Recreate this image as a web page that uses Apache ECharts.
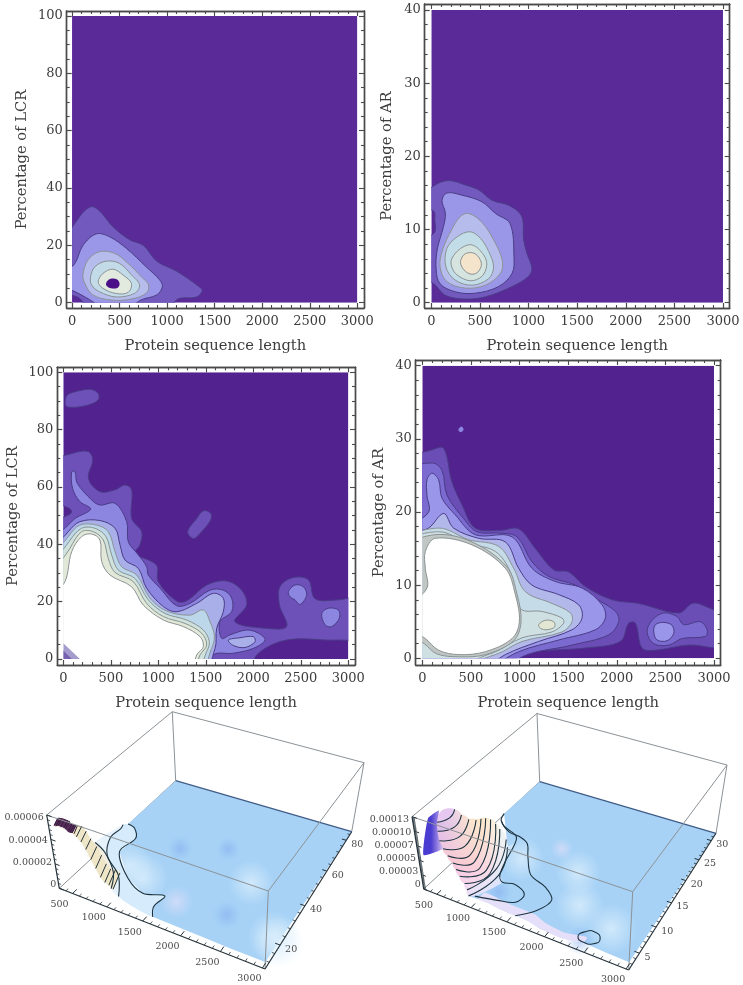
<!DOCTYPE html>
<html><head><meta charset="utf-8">
<style>html,body{margin:0;padding:0;background:#fff}#c{width:743px;height:985px;filter:blur(0.45px)}</style>
<script src="https://cdn.jsdelivr.net/npm/echarts@6/dist/echarts.min.js"></script>
</head><body><div id="c"></div>
<script>
// ---------- tick values ----------
const lengthMajor = [0,500,1000,1500,2000,2500,3000];
const lengthMinor = [100,200,300,400,600,700,800,900,1100,1200,1300,1400,1600,1700,1800,1900,2100,2200,2300,2400,2600,2700,2800,2900];
const lcrMajor = [0,20,40,60,80,100];
const lcrMinor = [5,10,15,25,30,35,45,50,55,65,70,75,85,90,95];
const arMajor = [0,10,20,30,40];
const arMinor = [2,4,6,8,12,14,16,18,22,24,26,28,32,34,36,38];

// ---------- contour regions: [protein length, percentage] ----------
const fullLcr = [[0,0],[3000,0],[3000,100],[0,100]];
const fullAr = [[0,0],[3000,0],[3000,40],[0,40]];

const a1 = [[0,17],[80,30],[200,33.5],[290,32],[430,26.5],[605,22],[750,20],[890,14.5],[1100,11],[1340,5.5],[1370,4.2],[1310,2],[1100,1],[960,0],[250,0],[80,1.5],[0,4.4]];
const a2 = [[0,7.3],[30,13.7],[115,20],[255,24],[395,23],[570,19],[780,12.5],[920,8],[950,5.6],[890,2.7],[710,.7],[465,0],[220,.3],[65,3.3]];
const a3 = [[115,10],[170,15],[290,17.8],[450,17.2],[590,13.7],[730,9],[805,6.2],[780,3.3],[625,1.3],[415,.9],[220,2.7],[135,6.7]];
const a4 = [[195,9],[240,12.5],[360,14.5],[500,13.7],[625,9.7],[710,6.2],[660,3.3],[465,2],[290,3.8],[205,6.2]];
const a5 = [[275,7.3],[325,10.2],[430,11.7],[535,9.7],[625,6.7],[590,3.6],[465,3.2],[325,5]];
const a6 = [[360,7],[400,8.3],[470,8.2],[500,6.7],[480,5.2],[410,5],[365,5.8]];

const b1 = [[0,14],[40,16.1],[180,16.7],[350,16.1],[490,15.4],[625,14],[800,13.3],[930,11.8],[950,8.6],[985,6.7],[1035,4.7],[1000,3.6],[830,2.2],[555,.8],[350,.5],[145,1],[25,2.6],[0,3.8],[0,8.5],[28,9.5],[35,11.5],[25,12.5],[0,13.5]];
const b2 = [[110,14],[160,15],[315,14.7],[520,13.8],[660,12.2],[810,10.8],[850,6.3],[830,4],[690,2.2],[450,1.3],[245,1.5],[90,2.6],[50,4.5],[60,7.2],[125,10.4],[145,12.2]];
const b3 = [[210,10],[300,11.8],[385,12.2],[520,11],[640,8.6],[730,5.8],[710,4],[555,2.4],[350,2],[160,2.9],[90,4.9],[115,7.2]];
const b4 = [[160,7.4],[265,9],[400,9.7],[505,8.8],[590,7],[640,4.9],[590,3.3],[420,2.4],[245,3.1],[150,4.9]];
const b5 = [[210,6],[300,7.4],[420,7.9],[540,6.5],[570,5.1],[520,3.6],[400,3],[265,3.8],[210,4.9]];
const b6 = [[300,5.6],[350,6.7],[450,6.7],[515,5.4],[480,4.2],[410,3.9],[335,4.5]];

const c1 = [[0,68],[125,72],[265,72.3],[310,69.4],[265,63],[385,58.4],[545,59],[650,60.7],[720,59],[720,49],[825,44.4],[807,39.8],[755,36.9],[980,32.8],[1000,27],[1193,20.2],[1300,20.3],[1510,25.8],[1720,27.2],[1877,24],[1930,18.8],[1807,13],[2140,10.7],[2350,11.3],[2275,18.8],[2280,25.2],[2420,28.4],[2580,27.6],[2650,21],[2880,20.6],[3000,21],[3000,7.8],[2880,6.6],[2350,6.6],[2035,1.4],[1965,0],[0,0],[0,46],[88,51.4],[0,56.6]];
const c1top = [[20,90],[40,92],[100,93],[200,93.8],[300,94],[370,92.5],[370,90.5],[300,89],[180,88],[60,87.8],[25,88.4]];
const c1mid = [[1309,44.4],[1404,49],[1474,51.7],[1551,50.8],[1551,48.5],[1439,43.8],[1369,42]];
const c2right1 = [[2369,23.5],[2439,25.8],[2526,25.2],[2562,22.3],[2491,19],[2439,20.6],[2386,21.7]];
const c2right2 = [[2720,15.9],[2790,17.7],[2895,17.1],[2905,14.2],[2825,11.3],[2755,11.9]];
const c2 = [[0,39.8],[53,46.7],[123,49],[288,52.3],[175,54.9],[98,59.5],[88,65.3],[123,65.3],[147,61.3],[298,55.5],[385,53.7],[545,54.3],[667,47.9],[684,40.9],[790,36.3],[877,32.2],[895,29.3],[1018,24.7],[1193,18.6],[1333,19.4],[1544,24],[1684,24],[1772,21.2],[1772,16.5],[1649,13],[1667,7.2],[1754,8.4],[1930,10.1],[2053,9],[2123,6.6],[2000,3.7],[1790,2],[1579,1.4],[1526,0],[0,0]];
const c3 = [[0,35],[53,44.4],[175,47.9],[385,48.3],[545,45.6],[597,39.8],[650,34.5],[790,31.6],[877,24.7],[1053,18.3],[1193,16.5],[1404,19.4],[1579,22.9],[1684,21.2],[1684,16.5],[1614,10.7],[1597,3.7],[1439,0],[0,0]];
const c3right = [[1737,6.6],[1860,7.4],[2000,7.8],[2018,6],[1912,4],[1790,4.7]];
const c4 = [[0,32.2],[53,42.7],[175,46.7],[350,46.7],[474,44.4],[545,37.4],[614,32.2],[772,29.3],[912,21.2],[1088,16.7],[1333,15.3],[1474,17.1],[1544,13],[1590,8],[1561,3.7],[1404,0],[0,0]];
const c5 = [[0,29.3],[60,40.9],[193,45.6],[333,45.6],[449,42.7],[509,36.3],[579,31],[754,28.1],[895,20.6],[1070,15.9],[1298,13.6],[1474,10.1],[1537,6],[1509,2.6],[1369,0],[0,0]];
const c6 = [[0,25.8],[70,38.6],[193,44.4],[316,44.4],[421,41.5],[474,35],[544,30.2],[737,27],[877,19.4],[1053,14.8],[1281,12.4],[1456,9],[1509,4.9],[1439,1.4],[1333,0],[0,0]];
const c7 = [[0,20],[18,27],[88,37.4],[193,42.7],[298,43.6],[386,41.5],[404,34],[491,29.3],[719,25.2],[842,18.8],[1053,13.6],[1263,11.3],[1439,7.8],[1474,4.3],[1404,1.4],[1316,0],[0,0]];
const c8 = [[0,5.5],[175,0],[0,0]];
const c9 = [[0,3],[90,0],[0,0]];

const d1 = [[0,27.1],[100,28.5],[220,28.7],[305,24.1],[408,21],[545,17.8],[803,17.5],[991,17.7],[1163,15],[1351,12.1],[1506,11.8],[1677,9.8],[1952,8],[2226,7.5],[2638,6.2],[2775,7.5],[2878,7.3],[3000,5.2],[3000,1.6],[2740,1.8],[2398,1.1],[2260,1.4],[2192,4.8],[2123,4.8],[2037,2.3],[1677,1.4],[1026,.5],[785,0],[0,0],[0,19],[48,20.3],[0,21.6]];
const d1speck = [[370,31.2],[400,31.7],[425,31.3],[400,30.9]];
const d2 = [[0,25.5],[100,26.7],[202,25.7],[254,22.3],[425,19.1],[562,17.3],[803,17.1],[974,16.6],[1128,13.2],[1300,11.2],[1574,10],[1780,8.2],[1986,6.4],[2020,5],[1917,3.2],[1540,1.8],[1026,.2],[854,0],[0,0]];
const d2right = [[2312,3.6],[2363,5.2],[2483,6.2],[2620,5.7],[2689,4.6],[2860,5],[2929,3.9],[2912,3],[2672,2.7],[2535,1.8],[2380,2]];
const d3 = [[0,17.3],[65,20],[48,22.3],[48,24.4],[100,25.3],[168,24.4],[202,21.9],[340,19.6],[545,16.9],[923,16.6],[1128,12.3],[1368,10.5],[1643,9.6],[1849,7.3],[1883,5.5],[1780,3.9],[1403,2.5],[991,.9],[511,0],[0,0]];
const d3right = [[2380,3.6],[2398,4.6],[2483,4.9],[2569,4.5],[2586,3.4],[2518,2.4],[2415,2.5]];
const d4 = [[0,16.6],[65,17.8],[220,19.8],[322,17.8],[580,16.4],[854,15.9],[991,12.3],[1128,10],[1403,8.7],[1609,7.3],[1643,5.5],[1540,3.9],[1197,2.3],[854,.5],[511,0],[0,0]];
const d5 = [[0,15.9],[168,17.8],[477,16.2],[785,15.3],[940,12.3],[1060,9.1],[1334,7.5],[1523,6.2],[1540,5],[1437,3.6],[1026,2.3],[751,.5],[0,0]];
const d6 = [[0,15.5],[168,17.3],[477,15.7],[751,14.6],[905,11.8],[1008,6.8],[1231,6.4],[1437,5.5],[1454,4.8],[1334,3.6],[1026,2.8],[717,.7],[0,0]];
const d7 = [[1197,4.6],[1266,5.2],[1351,5],[1362,4.3],[1283,3.9],[1214,4.1]];
const d8halo = [[0,15],[134,16.9],[511,15.9],[870,12.5],[975,8.7],[1015,5],[940,2.4],[648,.5],[374,.2],[150,.6],[20,2],[0,3.5]];
const d8 = [[31,14.6],[134,16.4],[511,15.5],[854,12.3],[957,8.7],[998,5],[923,2.7],[648,.9],[374,.5],[168,1.1],[31,2.7],[0,4.3],[0,6.8],[48,9.6],[31,12.3]];

// ---------- 3D surfaces: [protein length, percentage, density x 1e-5] ----------
const lcr3dFront = [[3030,9,.54],[2620,9,.54],[2211,9,.6],[1638,9,.66]];
const lcr3dC1 = [[1640,9,.66],[1523,14.7,.36],[1541,20.7,.36],[1288,18.4,.36],[979,22.5,.36],[592,33.2,.36],[618,42.5,.36],[471,48,.3],[316,50,.15]];
const lcr3dC2 = [[1187,9,1.26],[896,20.4,.72],[554,27.5,.72],[372,36.8,.72],[364,43.6,.6],[300,47.5,.36]];
const lcr3dC3 = [[1092,9,1.68],[879,18.5,1.2],[566,26,1.2],[343,29,1.2]];
const lcr3dSlopeLow = [[382,9,5.3],[436,9,5.4],[518,9,5.4],[573,9,5.2],[628,9,5.2],[682,9,5],[737,9,4.7],[791,9,4.2],[846,9,3.5],[901,9,2.9],[955,9,2.3],[1010,9,2],[1064,9,1.9],[1119,9,1.7]];
const lcr3dSlopeHigh = [[330,12.9,5.3],[390,12.9,5.4],[470,12.9,5.4],[525,12.9,5.2],[580,12.9,5.2],[615,14.4,5],[670,14.4,4.7],[725,14.4,4.2],[765,15.5,3.5],[820,15.5,2.9],[875,15.5,2.3],[930,15.5,2],[970,16.7,1.9],[1025,16.7,1.7]];
const lcr3dPaleSpots = [[1097,26.8],[3000,20.9],[2914,22.3],[800,30],[2300,42]];
const lcr3dDarkSpots = [[1190,47.2],[2298,24.1],[1750,55]];
const lcr3dLilacSpots = [[1673,21.9]];

const ar3dArcs = [
  [[535,3.4,12],[611,4.9,12],[565,6.7,12]],
  [[573,2.8,11],[693,4.5,11],[625,7.1,11]],
  [[628,2.2,10],[783,4.1,10],[682,7.7,10]],
  [[682,2,9],[873,3.7,9],[696,9,9]],
  [[737,2,8],[955,3.4,8],[666,10.5,8]],
  [[800,2,7],[1004,3.5,7],[641,11.9,7]],
  [[835,2,6],[1059,3.7,6],[639,13,6]],
  [[879,2,5],[1086,4.6,5],[677,13.5,5]],
  [[939,2,4],[1097,5.1,4],[715,13.8,4]],
  [[966,2,3],[1053,7.3,3],[841,13.2,3]],
  [[980,2,2],[1081,7.3,2],[879,12.8,2]]
];
const ar3dPeak = [[491,5.3,12.6]];
const ar3dWall = [[382,2,6.5],[382,3.8,11.7],[464,5,12.6],[535,3.4,12],[573,2.8,11],[628,2.2,10],[682,2,9]];
const ar3dCa = [[985,3.2,1],[1261,3.9,1],[1463,4.7,1],[1482,6.5,1],[1283,7.6,1],[1133,7.2,1],[1034,8.2,1],[944,11.1,1],[860,14.9,1],[783,16.6,1],[529,17.8,1],[420,18.8,1]];
const ar3dCb = [[1556,3,.5],[1728,5.1,.5],[1791,7.7,.5],[1608,9.5,.5],[1337,10.7,.5],[1114,13.9,.5],[963,16.4,.5],[783,17.3,.5],[622,17.5,.5],[385,19.3,.5],[325,21.1,.5]];
const ar3dIsland = [[2348,3.5,.5],[2375,4.6,.5],[2484,5.2,.5],[2580,4.4,.5],[2552,3.4,.5],[2443,3,.5]];
const ar3dFront = [[3030,2,1.3],[2757,2,1.4],[2484,2,1.6],[2211,2,.9],[1938,2,1.1],[1802,2,1.6],[1665,2,1.7],[1529,2,1.7],[1392,2,1.8],[1256,2,2.1],[1119,2,2.1]];
const ar3dStripTop = [[2484,3,1.6],[2211,3,.9],[1938,3.2,1.1],[1802,3.4,1.6],[1665,3.4,1.7],[1529,3.4,1.7],[1392,3.4,1.8],[1256,3.4,2.1],[1119,3.4,2.1]];
const ar3dPaleSpots = [[1037,13.6],[1799,14.7],[2599,7.1],[2100,9]];
const ar3dDarkSpots = [[2375,3.4],[1129,6.2]];
const ar3dLilacSpots = [[1387,18.2]];

// ---------- styles and layout ----------
const SERIF = '"DejaVu Serif","Liberation Serif",serif';
const INK = '#3c3c3c';
const lo = '#4a3c86', hi = '#8b9294';

function layer(ring, fill, stroke, smooth){ return {ring, fill, stroke, smooth: smooth===undefined?0.35:smooth}; }

const panels2D = [
 { frame:[66.7,11,364,308], xr:[-56,3070], yr:[-1.85,101.75], yMajor:lcrMajor, yMinor:lcrMinor, yMax:100, gap:37, name:'Percentage of LCR',
   layers:[layer(fullLcr,'#5a2a99',null,0),layer(a1,'#7159bd',lo),layer(a2,'#9b97e8',lo),layer(a3,'#b6bded',hi),layer(a4,'#c3dbe8',hi),layer(a5,'#e2e9df',hi),layer(a6,'#4b0f88',null)] },
 { frame:[424.7,4,729.7,308], xr:[-68,3069], yr:[-.72,40.82], yMajor:arMajor, yMinor:arMinor, yMax:40, gap:30, name:'Percentage of AR',
   layers:[layer(fullAr,'#5a2a99',null,0),layer(b1,'#7159bd',lo),layer(b2,'#9b97e8',lo),layer(b3,'#b6bded',hi),layer(b4,'#c3dde8',hi),layer(b5,'#d6e4e0',hi),layer(b6,'#f5e4cc',hi)] },
 { frame:[57.3,367.3,355,665], xr:[-63,3070], yr:[-2.1,101.75], yMajor:lcrMajor, yMinor:lcrMinor, yMax:100, gap:37, name:'Percentage of LCR',
   layers:[layer(fullLcr,'#52228f',null,0),layer(c1,'#6d50b8',lo),layer(c1top,'#6d50b8',lo),layer(c1mid,'#6d50b8',lo),layer(c2,'#8d86e0',lo),layer(c2right1,'#8d86e0',lo),layer(c2right2,'#8d86e0',lo),layer(c3,'#a9afe8',lo),layer(c3right,'#a9afe8',lo),layer(c4,'#bcd6ea',hi),layer(c5,'#cfe2dc',hi),layer(c6,'#e2e8d8',hi),layer(c7,'#ffffff',hi),layer(c8,'#a49ccc',null,0),layer(c9,'#7661b0',null,0)] },
 { frame:[415.7,360,720.7,665], xr:[-68,3069], yr:[-.92,40.78], yMajor:arMajor, yMinor:arMinor, yMax:40, gap:29, name:'Percentage of AR',
   layers:[layer(fullAr,'#52228f',null,0),layer(d1,'#6a4db5',lo),layer(d1speck,'#8d86e0',null),layer(d2,'#7b6ad0',lo),layer(d2right,'#7b6ad0',lo),layer(d3,'#9a96ea',lo),layer(d3right,'#9a96ea',lo),layer(d4,'#b2b8ea',lo),layer(d5,'#c5dbe8',hi),layer(d6,'#cfe0e2',hi),layer(d7,'#e2e6d2',hi),layer(d8halo,'#c0c6c4',hi),layer(d8,'#ffffff',hi)] }
];

const AXC = '#4a4a4a';
const grids=[], xAxes=[], yAxes=[], series=[];
const textStyle = {fontFamily:SERIF, color:INK, fontSize:13, formatter:v=>String(v)};

panels2D.forEach(p=>{
  const g = grids.length;
  grids.push({left:p.frame[0], top:p.frame[1], width:p.frame[2]-p.frame[0], height:p.frame[3]-p.frame[1]});
  const base = {gridIndex:g,type:'value',splitLine:{show:false},silent:true};
  const line = {onZero:false,lineStyle:{color:AXC,width:1.4}};
  const ixStart = xAxes.length, iyStart = yAxes.length;
  xAxes.push({...base,min:p.xr[0],max:p.xr[1],position:'bottom',axisLine:line,
    axisTick:{inside:true,length:5,customValues:lengthMajor,lineStyle:{color:AXC,width:1.2}},
    axisLabel:{customValues:lengthMajor,margin:7,...textStyle},
    name:'Protein sequence length',nameLocation:'middle',nameGap:31,nameTextStyle:{fontFamily:SERIF,color:INK,fontSize:14.7}});
  yAxes.push({...base,min:p.yr[0],max:p.yr[1],position:'left',axisLine:line,
    axisTick:{inside:true,length:5,customValues:p.yMajor,lineStyle:{color:AXC,width:1.2}},
    axisLabel:{customValues:p.yMajor,margin:4,...textStyle},
    name:p.name,nameLocation:'middle',nameGap:p.gap,nameTextStyle:{fontFamily:SERIF,color:INK,fontSize:14.7}});
  [['top',lengthMajor,5],['top',lengthMinor,3],['bottom',lengthMinor,3]].forEach(([pos,vals,len])=>{
    xAxes.push({...base,min:p.xr[0],max:p.xr[1],position:pos,axisLine:line,axisLabel:{show:false},
      axisTick:{inside:true,length:len,customValues:vals,lineStyle:{color:AXC,width:1.1}}});
  });
  [['right',p.yMajor,5],['right',p.yMinor,3],['left',p.yMinor,3]].forEach(([pos,vals,len])=>{
    yAxes.push({...base,min:p.yr[0],max:p.yr[1],position:pos,axisLine:line,axisLabel:{show:false},
      axisTick:{inside:true,length:len,customValues:vals,lineStyle:{color:AXC,width:1.1}}});
  });
  const yM = p.yMax;
  const pushOut = r => r.map(([x,y])=>[x<=0?-150:(x>=3000?3150:x), y<=0?-yM*.06:y]);
  series.push({
    type:'custom',coordinateSystem:'cartesian2d',xAxisIndex:ixStart,yAxisIndex:iyStart,silent:true,clip:false,
    data:p.layers.map((_,i)=>[i,0]),
    encode:{x:0,y:1},
    renderItem:(params,api)=>{
      const L = p.layers[params.dataIndex];
      const tl = api.coord([0,yM]), br = api.coord([3000,0]);
      const pts = (L.smooth?pushOut(L.ring):L.ring).map(q=>api.coord(q));
      return {type:'polygon',shape:{points:pts,smooth:L.smooth||0},
        style:{fill:L.fill,stroke:L.stroke||null,lineWidth:L.stroke?1:0},
        clipPath:{type:'rect',shape:{x:tl[0],y:tl[1],width:br[0]-tl[0],height:br[1]-tl[1]}}};
    }
  });
});

// ---------- 3D boxes ----------
function homography(L,F,R,B){
  const dx1=F[0]-R[0],dx2=B[0]-R[0],sx=L[0]-F[0]+R[0]-B[0];
  const dy1=F[1]-R[1],dy2=B[1]-R[1],sy=L[1]-F[1]+R[1]-B[1];
  const D=dx1*dy2-dx2*dy1, g=(sx*dy2-dx2*sy)/D, h=(dx1*sy-sx*dy1)/D;
  const a=F[0]-L[0]+g*F[0], b=B[0]-L[0]+h*B[0], d=F[1]-L[1]+g*F[1], e=B[1]-L[1]+h*B[1];
  return (s,t)=>{const w=1+g*s+h*t; return [(a*s+b*t+L[0])/w,(d*s+e*t+L[1])/w];};
}
function makeProjector(b){
  const fl=homography(b.floor[0],b.floor[1],b.floor[2],b.floor[3]);
  const tp=homography(b.top[0],b.top[1],b.top[2],b.top[3]);
  return (x,y,z)=>{
    const s=(x-b.x[0])/(b.x[1]-b.x[0]), t=(y-b.y[0])/(b.y[1]-b.y[0]), w=z/b.z;
    const f=fl(s,t), u=tp(s,t);
    return [f[0]+(u[0]-f[0])*w, f[1]+(u[1]-f[1])*w];
  };
}
const DK='#26323a', GR='#8c9296', CT='#1d3440';
function poly(pts,fill,smooth){return {type:'polygon',shape:{points:pts,smooth:smooth||0},style:{fill}};}
function pline(pts,color,w,smooth){return {type:'polyline',shape:{points:pts,smooth:smooth||0},style:{stroke:color,lineWidth:w,fill:null}};}
function seg(a,b,color,w){return {type:'line',shape:{x1:a[0],y1:a[1],x2:b[0],y2:b[1]},style:{stroke:color,lineWidth:w}};}
function txt(p,s,align){return {type:'text',x:p[0],y:p[1],style:{text:s,fontFamily:SERIF,fontSize:9.5,fill:'#4a4a4a',align,verticalAlign:'middle'}};}
function blotch(P,px,py,rLen,rPct,color){
  const c=P(px,py,0), ax=P(px+rLen,py,0), ay=P(px,py+rPct,0);
  const rx=Math.hypot(ax[0]-c[0],ax[1]-c[1]), ry=Math.hypot(ay[0]-c[0],ay[1]-c[1]);
  const rot=-Math.atan2(ax[1]-c[1],ax[0]-c[0]);
  return {type:'ellipse',shape:{cx:c[0],cy:c[1],rx,ry},rotation:rot,originX:c[0],originY:c[1],
    style:{fill:{type:'radial',x:.5,y:.5,r:.5,colorStops:[{offset:0,color:color},{offset:1,color:color.replace(/[\d.]+\)$/,'0)')}]}}};
}
function decor(P,b,xMaj,xMin,yMaj,yMin,zMaj,zLabels,zMin){
  const back=[],front=[],[x0,x1]=b.x,[y0,y1]=b.y,z=b.z;
  const c=(a,bb,cc)=>P(a?x1:x0,bb?y1:y0,cc?z:0);
  back.push(seg(c(0,1,0),c(0,1,1),GR,1),seg(c(0,0,1),c(0,1,1),GR,1),seg(c(0,1,1),c(1,1,1),GR,1),seg(c(1,1,0),c(1,1,1),GR,1),seg(c(0,0,0),c(0,1,0),GR,1));
  front.push(seg(c(0,0,1),c(1,0,1),GR,1),seg(c(1,0,1),c(1,1,1),GR,1),seg(c(1,0,0),c(1,0,1),GR,1));
  front.push(seg(c(0,0,0),c(1,0,0),DK,1.2),seg(c(1,0,0),c(1,1,0),DK,1.2),seg(c(0,0,0),c(0,0,1),DK,1.2));
  const dy=(y1-y0)*.03, dx=(x1-x0)*.022;
  xMaj.forEach(v=>{front.push(seg(P(v,y0,0),P(v,y0+dy,0),DK,1)); const q=P(v,y0,0); front.push(txt([q[0]-13,q[1]+11],String(v),'center'));});
  xMin.forEach(v=>front.push(seg(P(v,y0,0),P(v,y0+dy*.55,0),DK,.8)));
  yMaj.forEach(v=>{front.push(seg(P(x1,v,0),P(x1-dx,v,0),DK,1)); const q=P(x1,v,0); front.push(txt([q[0]+5,q[1]+4],String(v),'left'));});
  yMin.forEach(v=>front.push(seg(P(x1,v,0),P(x1-dx*.55,v,0),DK,.8)));
  zMaj.forEach((v,i)=>{front.push(seg(P(x0,y0,v),P(x0+dx*1.1,y0,v),DK,1)); const q=P(x0,y0,v); front.push(txt([q[0]-3,q[1]+3-(1-v/z)*7],zLabels[i],'right'));});
  zMin.forEach(v=>front.push(seg(P(x0,y0,v),P(x0+dx*.6,y0,v),DK,.8)));
  return {back,front};
}
const pal3d={plane:'#a7d2f6',pale:'rgba(222,240,252,0.75)',dark:'rgba(125,170,240,0.5)',lilac:'rgba(222,222,248,0.7)'};

const box3L={x:[300,3030],y:[9,86],z:6,
  floor:[[59.3,888.3],[265,969],[351.7,831.7],[175.7,780.7]],
  top:[[46.7,815],[268.3,891],[364,762.7],[172.3,711.7]]};
const box3R={x:[300,3030],y:[2,32],z:13,
  floor:[[423.7,889],[628.7,970],[716,833.3],[539.7,781.7]],
  top:[[412,816.7],[632.7,891.7],[727,765],[537,713.5]]};

const xM3=[500,1000,1500,2000,2500,3000];
const xm3=[400,600,700,800,900,1100,1200,1300,1400,1600,1700,1800,1900,2100,2200,2300,2400,2600,2700,2800,2900];

function render3dLeft(){
  const P=makeProjector(box3L), pr=a=>a.map(q=>P(q[0],q[1],q[2]));
  const d=decor(P,box3L,xM3,xm3,[20,40,60,80],[12,16,24,28,32,36,44,48,52,56,64,68,72,76,84],[0,2,4,6],['0','0.00002','0.00004','0.00006'],[.4,.8,1.2,1.6,2.4,2.8,3.2,3.6,4.4,4.8,5.2,5.6]);
  const k=[...d.back];
  const plane=[[300,86,0],[3030,86,0],...lcr3dFront,...lcr3dC1.slice(1)];
  k.push(poly(pr(plane),pal3d.plane));
  lcr3dPaleSpots.forEach(s=>k.push(blotch(P,s[0],s[1],420,11,pal3d.pale)));
  lcr3dDarkSpots.forEach(s=>k.push(blotch(P,s[0],s[1],420,6,pal3d.dark)));
  lcr3dLilacSpots.forEach(s=>k.push(blotch(P,s[0],s[1],420,7,pal3d.lilac)));
  k.push(seg(P(300,86,0),P(3030,86,0),'#3f5c86',1.2));
  k.push(poly(pr([...lcr3dC1,...lcr3dC2.slice().reverse()]),'#d6ebfb',.2));
  k.push(poly(pr([...lcr3dC2,...lcr3dC3.slice().reverse()]),'#e6f2fb',.2));
  k.push(poly(pr([...lcr3dC3,...lcr3dSlopeLow]),'#f1ede0',0));
  const n=lcr3dSlopeLow.length;
  const hatch=(a,b)=>[...lcr3dSlopeLow.slice(a,b),...lcr3dSlopeHigh.slice(a,b).reverse()];
  k.push(poly(pr(hatch(4,n)),'#efe6c8',.2));
  k.push(poly(pr(hatch(0,5)),'#5b2a5c',.2));
  lcr3dSlopeLow.forEach((q,i)=>{
    k.push(pline(pr([q,lcr3dSlopeHigh[i]]),i<5?'#31203a':'#27343a',1));
    if(i+1<n && i<5){const h=lcr3dSlopeHigh[i],h2=lcr3dSlopeHigh[i+1];
      k.push(pline(pr([[(q[0]+lcr3dSlopeLow[i+1][0])/2,q[1],q[2]],[(h[0]+h2[0])/2,h[1],h[2]]]),'#31203a',1));}
  });
  [lcr3dC1,lcr3dC2,lcr3dC3].forEach(c=>k.push(pline(pr(c),CT,1.1,.35)));
  k.push(...d.front);
  return {type:'group',children:k};
}
function render3dRight(){
  const P=makeProjector(box3R), pr=a=>a.map(q=>P(q[0],q[1],q[2]));
  const zm=[];for(let i=1;i<65;i++){if(i%13)zm.push(i/5);}
  const d=decor(P,box3R,xM3,xm3,[5,10,15,20,25,30],[3,4,6,7,8,9,11,12,13,14,16,17,18,19,21,22,23,24,26,27,28,29,31],[0,2.6,5.2,7.8,10.4,13],['0','0.00003','0.00005','0.00007','0.00010','0.00013'],zm.filter(v=>v<13));
  const k=[...d.back];
  const a11=ar3dArcs[10];
  const plane=[[300,32,0],[3030,32,0],...ar3dFront,a11[0],a11[1],a11[2],[325,21.1,.5]];
  k.push(poly(pr(plane),pal3d.plane));
  ar3dPaleSpots.forEach(s=>k.push(blotch(P,s[0],s[1],460,4.2,pal3d.pale)));
  ar3dDarkSpots.forEach(s=>k.push(blotch(P,s[0],s[1],260,2.2,pal3d.dark)));
  ar3dLilacSpots.forEach(s=>k.push(blotch(P,s[0],s[1],240,2.2,pal3d.lilac)));
  k.push(seg(P(300,32,0),P(3030,32,0),'#3f5c86',1.2));
  k.push(poly(pr([...ar3dFront.slice(2),...ar3dStripTop.slice().reverse()]),'rgba(236,224,250,.9)',.2));
  const grad=(a,b,c1,c2)=>{const p=P(a[0],a[1],a[2]),q=P(b[0],b[1],b[2]);
    return {type:'linear',x:p[0],y:p[1],x2:q[0],y2:q[1],global:true,colorStops:[{offset:0,color:c1},{offset:1,color:c2}]};};
  k.push(poly(pr([a11[0],a11[1],a11[2],ar3dCa[8],ar3dCa[7],ar3dCa[6],ar3dCa[5],ar3dCa[0]]),grad(a11[0],a11[2],'#e8e2fa','#cfe6fb'),.25));
  const stops=[['#ecdff6','#e4f0f8'],['#f2daf2','#eef2f2'],['#f6d2ea','#f6f2e6'],['#f8cce4','#faf0dc'],['#f8c8dc','#fdeed4'],['#f8c8d4','#fdeacc'],['#f4c8d8','#fdeacc'],['#eec4e0','#fce8cc'],['#e4bce8','#f7e0d0'],['#d9b8ec','#f0d8e0']];
  for(let i=10;i>0;i--){
    const lowC=ar3dArcs[i], upC=ar3dArcs[i-1];
    const st=stops[10-i];
    k.push(poly(pr([...lowC,...upC.slice().reverse()]),grad(lowC[0],lowC[2],st[0],st[1]),.3));
  }
  k.push(poly(pr([...ar3dArcs[0],...ar3dPeak]),'#e6c8f0',.4));
  k.push(poly(pr(ar3dWall),{type:'linear',x:P(382,3.8,8)[0],y:0,x2:P(640,3,11)[0],y2:0,global:true,colorStops:[{offset:0,color:'#4a3cd0'},{offset:.5,color:'#8f7be0'},{offset:1,color:'#e0c8f0'}]},.15));
  ar3dArcs.forEach(c=>k.push(pline(pr(c),CT,1.1,.5)));
  k.push(pline(pr(ar3dCa),CT,1.1,.35));
  k.push(pline(pr(ar3dCb),CT,1.1,.35));
  k.push({type:'polygon',shape:{points:pr(ar3dIsland),smooth:.6},style:{fill:null,stroke:CT,lineWidth:1.1}});
  k.push(...d.front);
  return {type:'group',children:k};
}
series.push({type:'custom',coordinateSystem:'none',silent:true,data:[[0]],renderItem:render3dLeft});
series.push({type:'custom',coordinateSystem:'none',silent:true,data:[[0]],renderItem:render3dRight});

const chart=echarts.init(document.getElementById('c'),null,{renderer:'canvas',width:743,height:985});
chart.setOption({animation:false,backgroundColor:'#fff',grid:grids,xAxis:xAxes,yAxis:yAxes,series});
</script></body></html>
